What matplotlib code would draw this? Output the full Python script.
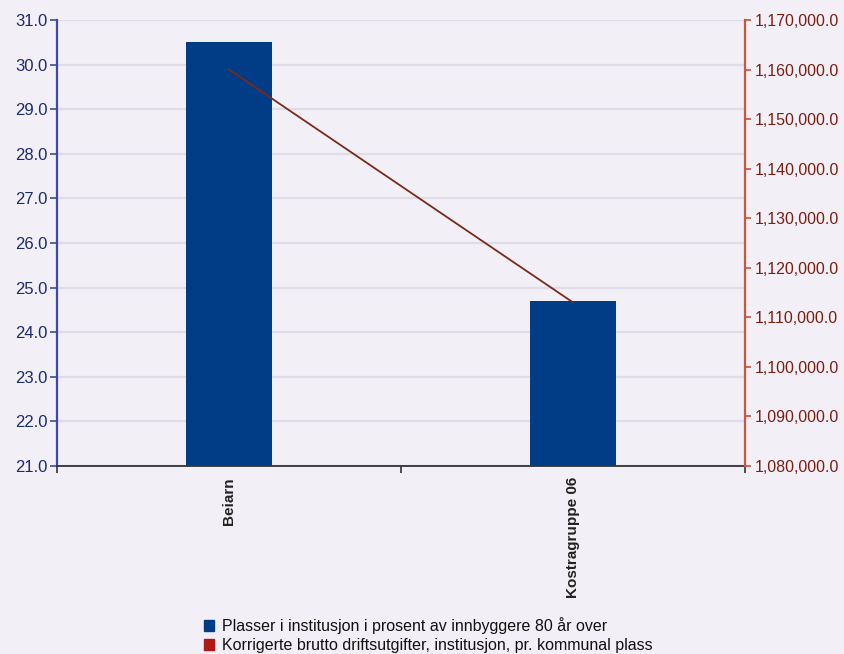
import matplotlib
matplotlib.use("Agg")
import matplotlib.pyplot as plt
from matplotlib.patches import Patch
from matplotlib.ticker import FuncFormatter, FixedLocator

categories = ["Beiarn", "Kostragruppe 06"]
plasser_pct = [30.5, 24.7]
driftsutgifter = [1160000, 1113000]
series_names = [
    "Plasser i institusjon i prosent av innbyggere 80 år over",
    "Korrigerte brutto driftsutgifter, institusjon, pr. kommunal plass",
]
left_ticks = [21.0, 22.0, 23.0, 24.0, 25.0, 26.0, 27.0, 28.0, 29.0, 30.0, 31.0]
right_ticks = [1080000, 1090000, 1100000, 1110000, 1120000, 1130000,
               1140000, 1150000, 1160000, 1170000]

bg = "#f3eff6"
bar_color = "#003d86"
line_color = "#7a2a1a"
left_label_color = "#1c2a6e"
right_label_color = "#7a1f12"

plt.rcParams["font.family"] = ["Liberation Sans", "DejaVu Sans"]

fig = plt.figure(figsize=(8.45, 6.54), dpi=100, facecolor=bg)
ax = fig.add_axes([0.0675, 0.2875, 0.8142, 0.6819], facecolor=bg)
ax2 = ax.twinx()

x = [0.5, 1.5]
ax.bar(x, [v - 21.0 for v in plasser_pct], bottom=21.0, width=0.25,
       color=bar_color, zorder=3)
ax.set_xlim(0, 2)
ax.set_ylim(21, 31)
ax.yaxis.set_major_locator(FixedLocator(left_ticks))
ax.yaxis.set_major_formatter(FuncFormatter(lambda v, p: f"{v:.1f}"))
ax.grid(axis="y", color="#e0dce7", linewidth=1.6, zorder=0)
ax.set_axisbelow(True)

ax.set_xticks([0, 1, 2])
ax.set_xticklabels([])
ax.tick_params(axis="x", length=5, width=1.2, color="#333333")
for xi, name in zip(x, categories):
    ax.text(xi, -0.025, name, transform=ax.get_xaxis_transform(),
            rotation=90, ha="center", va="top", fontsize=11,
            fontweight="bold", color="#222222")

ax.tick_params(axis="y", length=5, width=1.2, color="#3b4aa8",
               labelsize=12, labelcolor=left_label_color, pad=2)

ax2.plot(x, driftsutgifter, color=line_color, linewidth=1.3, zorder=4)
ax2.set_ylim(1080000, 1170000)
ax2.yaxis.set_major_locator(FixedLocator(right_ticks))
ax2.yaxis.set_major_formatter(FuncFormatter(lambda v, p: f"{v:,.1f}"))
ax2.tick_params(axis="y", length=4, width=1.2, color="#c0543a",
                labelsize=11.5, labelcolor=right_label_color, pad=3)

for a in (ax, ax2):
    a.spines["top"].set_visible(False)
ax.spines["left"].set_color("#3b4aa8")
ax.spines["left"].set_linewidth(1.6)
ax.spines["bottom"].set_color("#333333")
ax.spines["bottom"].set_linewidth(1.3)
ax.spines["right"].set_visible(False)
ax2.spines["left"].set_visible(False)
ax2.spines["bottom"].set_visible(False)
ax2.spines["right"].set_color("#c8553c")
ax2.spines["right"].set_linewidth(1.6)

handles = [Patch(facecolor=bar_color, edgecolor=bar_color),
           Patch(facecolor="#b01818", edgecolor="#b01818")]
fig.legend(handles, series_names, loc="lower left",
           bbox_to_anchor=(0.225, -0.02), frameon=False,
           prop={"size": 11.5}, labelcolor="#111111",
           handlelength=0.6, handleheight=0.7, handletextpad=0.5,
           labelspacing=0.25)

fig.savefig("out.png", dpi=100, facecolor=bg)
